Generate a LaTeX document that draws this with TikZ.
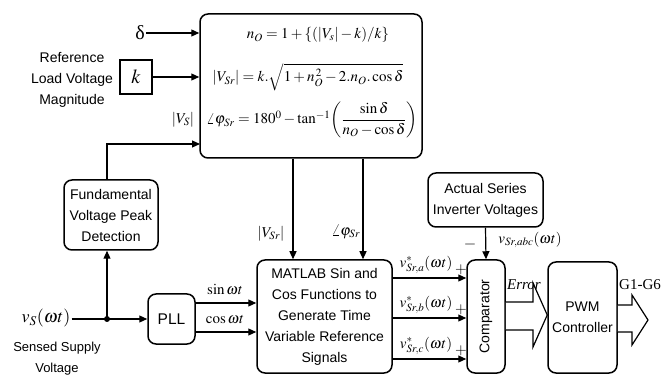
\documentclass[tikz,border=0pt]{standalone}
\usepackage{amsmath}
\usepackage{mathptmx}
\usepackage{fontspec}
\setmainfont{Liberation Serif}
\setsansfont{Liberation Sans}
\usetikzlibrary{arrows.meta,calc}
\begin{document}
\begin{tikzpicture}[x=1pt,y=-1pt]
\tikzset{
 box/.style={draw, line width=1.5pt, rounded corners=8pt, align=center, font=\sffamily\fontsize{14}{21}\selectfont, inner sep=0pt},
 arr/.style={line width=1.2pt, -{Triangle[length=8pt,width=7pt]}},
 ml/.style={font=\fontsize{15}{18}\selectfont, inner sep=1pt},
 lbl/.style={font=\sffamily\fontsize{14}{21}\selectfont, align=center},
 blk/.style={draw, line width=1.2pt, fill=white, line join=miter},
}
\useasboundingbox (0,0) rectangle (664,379);
% equation block
\node[box, minimum width=222pt, minimum height=144pt] (eq) at (311,86) {};
\node[ml] (e1) at (318,35) {$n_O = 1+\{(|V_s|-k)/k\}$};
\node[ml] (e2) at (308,77) {$|V_{Sr}| = k.\sqrt{1+n_O^{\,2}-2.n_O.\cos\delta}$};
\node[ml] (e3) at (312,120) {$\angle\varphi_{Sr} = 180^0 - \tan^{-1}\!\left(\dfrac{\sin\delta}{n_O-\cos\delta}\right)$};
% inputs
\node[ml, font=\fontsize{20}{22}\selectfont] (delta) at (140,33) {δ};
\draw[arr] (delta.east) -- (delta.east -| eq.west);
\node[draw, line width=1.5pt, minimum width=32pt, minimum height=34pt, inner sep=0pt, font=\fontsize{20}{22}\selectfont] (k) at (136,77) {$k$};
\draw[arr] (k.east) -- (k.east -| eq.west);
\node[lbl] (ref) at (72,80) {Reference\\Load Voltage\\Magnitude};
\node[ml] (vsl) at (183,120) {$|V_S|$};
% fundamental
\node[box, minimum width=94pt, minimum height=70pt] (fund) at (111,215) {Fundamental\\Voltage Peak\\Detection};
\coordinate (j) at (107,319);
\coordinate (vsin) at (200,144);
\draw[arr] (fund.north -| j) |- (vsin);
\draw[arr] (j) -- (j |- fund.south);
% supply
\node[ml, font=\fontsize{18}{20}\selectfont] (vs) at (46,318) {$v_S(\omega t)$};
\node[lbl, font=\sffamily\fontsize{13}{21}\selectfont] (sensed) at (57,359) {Sensed Supply\\Voltage};
\node[box, minimum width=47pt, minimum height=50pt, font=\sffamily\fontsize{15.5}{18}\selectfont] (pll) at (171.5,319) {PLL};
\draw[arr] (vs.east |- j) -- (pll.west);
\fill (j) circle (3pt);
% matlab
\node[box, minimum width=135pt, minimum height=113pt] (mat) at (324.5,316.5) {MATLAB Sin and\\Cos Functions to\\Generate Time\\Variable Reference\\Signals};
\coordinate (ps) at (195,303);
\coordinate (pc) at (195,332);
\draw[arr] (ps) -- (ps -| mat.west);
\draw[arr] (pc) -- (pc -| mat.west);
\node[ml] (sinl) at (225,290) {$\sin\omega t$};
\node[ml] (cosl) at (225,320) {$\cos\omega t$};
\coordinate (m1) at (293,0);
\coordinate (m2) at (363,0);
\draw[arr] (eq.south -| m1) -- (mat.north -| m1);
\draw[arr] (eq.south -| m2) -- (mat.north -| m2);
\node[ml] (vsrl) at (271,234) {$|V_{Sr}|$};
\node[ml] (phil) at (346,232) {$\angle\varphi_{Sr}$};
% actual / comparator
\node[box, minimum width=115pt, minimum height=54pt] (act) at (485.5,200) {Actual Series\\Inverter Voltages};
\node[box, minimum width=38pt, minimum height=113pt] (comp) at (486,316.5) {\rotatebox{90}{Comparator}};
\draw[arr] (act.south) -- (comp.north);
\node[ml, font=\fontsize{16}{18}\selectfont] (minus) at (470,245) {$-$};
\node[ml] (vabc) at (530,240) {$v_{Sr,abc}(\omega t)$};
\coordinate (a1) at (392,278);
\coordinate (a2) at (392,318);
\coordinate (a3) at (392,359);
\draw[arr] (a1) -- (a1 -| comp.west);
\draw[arr] (a2) -- (a2 -| comp.west);
\draw[arr] (a3) -- (a3 -| comp.west);
\node[ml] (la) at (426,265) {$v^{*}_{Sr,a}(\omega t)$};
\node[ml] (lb) at (426,305) {$v^{*}_{Sr,b}(\omega t)$};
\node[ml] (lc) at (426,346) {$v^{*}_{Sr,c}(\omega t)$};
\node[ml] (pa) at (461,270) {$+$};
\node[ml] (pb) at (461,310) {$+$};
\node[ml] (pc2) at (461,351) {$+$};
% PWM
\node[box, minimum width=69pt, minimum height=111pt] (pwm) at (582.5,317.5) {PWM\\Controller};
\node[ml, font=\itshape\fontsize{15}{18}\selectfont] (err) at (524,285) {Error};
\node[ml, font=\fontsize{15}{18}\selectfont] (gl) at (640,285) {G1-G6};
% block arrows
\draw[blk] (comp.east |- 0,302) -- (533,302) -- (533,283) -- (pwm.west |- 0,315) -- (533,347) -- (533,330) -- (comp.east |- 0,330);
\draw[blk] (pwm.east |- 0,305) -- (632,305) -- (632,295) -- (648,320) -- (632,345) -- (632,332) -- (pwm.east |- 0,332);
\end{tikzpicture}
\end{document}
